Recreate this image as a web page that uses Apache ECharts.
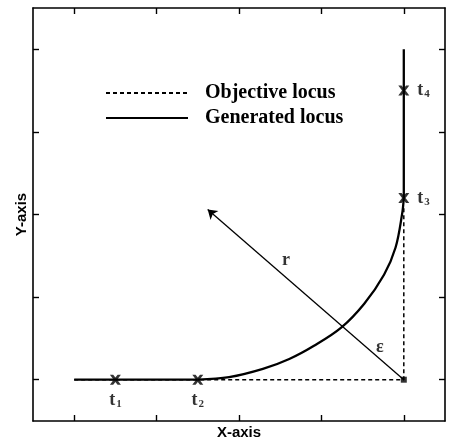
<!DOCTYPE html>
<html><head><meta charset="utf-8">
<script src="https://cdn.jsdelivr.net/npm/echarts@6/dist/echarts.min.js"></script>
<style>html,body{margin:0;background:#fff}#c{width:457px;height:442px}</style>
</head><body><div id="c"></div>
<script>
const tickValues = [0, 1, 2, 3, 4];
const legendNames = ['Objective locus', 'Generated locus'];
const genStraightX = [0, 1.5];
const genStraightY = [0, 0];
const genCurveX = [1.5, 1.88, 2.29, 2.61, 2.91, 3.24, 3.52, 3.76, 3.90, 3.98, 4.0];
const genCurveY = [0, 0.03, 0.13, 0.25, 0.41, 0.63, 0.92, 1.27, 1.60, 2.01, 2.2];
const genVertX = [4, 4];
const genVertY = [2.2, 4.0];
const objX = [0, 4, 4];
const objY = [0, 0, 2.1];
const markerSubs = ['1', '2', '3', '4'];
const markerX = [0.5, 1.5, 4, 4];
const markerY = [0, 0, 2.2, 3.5];
const centerX = [4];
const centerY = [0];
const arrowFrom = [4, 0];
const arrowTo = [1.62, 2.06];
const annotText = ['r', 'ε'];
const annotX = [2.57, 3.71];
const annotY = [1.45, 0.39];

const zip = (xs, ys) => xs.map((x, i) => [x, ys[i]]);
const serif = 'Liberation Serif';
const sans = 'Liberation Sans';
const xMark = 'path://M0,0 L3,0 L5,2.8 L7,0 L10,0 L6.6,5 L10,10 L7,10 L5,7.2 L3,10 L0,10 L3.4,5 Z';

const axisCommon = {
  type: 'value', min: -0.5, max: 4.5,
  axisLine: { show: true, onZero: false, lineStyle: { color: '#000', width: 1.6 } },
  axisTick: { show: true, inside: true, length: 6, customValues: tickValues, lineStyle: { color: '#000', width: 1.4 } },
  axisLabel: { show: false },
  splitLine: { show: false }
};

const chart = echarts.init(document.getElementById('c'));
chart.setOption({
  animation: false,
  backgroundColor: '#fff',
  grid: { left: 33, right: 12, top: 8, bottom: 21, containLabel: false, outerBoundsMode: 'none' },
  legend: {
    data: legendNames,
    orient: 'vertical', left: 100, top: 78,
    itemWidth: 82, itemHeight: 14, itemGap: 5,
    itemStyle: { opacity: 0 },
    textStyle: { fontFamily: serif, fontWeight: 'bold', fontSize: 20, color: '#000', padding: [0, 0, 0, 12] }
  },
  xAxis: [
    Object.assign({}, axisCommon, { position: 'bottom', name: 'X-axis', nameLocation: 'middle', nameGap: 4,
      nameTextStyle: { fontFamily: sans, fontWeight: 'bold', fontSize: 15, color: '#000' } }),
    Object.assign({}, axisCommon, { position: 'top' })
  ],
  yAxis: [
    Object.assign({}, axisCommon, { position: 'left', name: 'Y-axis', nameLocation: 'middle', nameGap: 4,
      nameTextStyle: { fontFamily: sans, fontWeight: 'bold', fontSize: 15, color: '#000' } }),
    Object.assign({}, axisCommon, { position: 'right' })
  ],
  series: [
    { name: 'Objective locus', type: 'line', data: zip(objX, objY), symbol: 'none',
      lineStyle: { color: '#000', width: 1.5, type: [4, 3] }, itemStyle: { color: '#000' }, z: 2 },
    { name: 'Generated locus', type: 'line', data: zip(genStraightX, genStraightY), symbol: 'none',
      lineStyle: { color: '#000', width: 2.3 }, itemStyle: { color: '#000' }, z: 3 },
    { name: 'Generated locus', type: 'line', data: zip(genCurveX, genCurveY), symbol: 'none',
      smooth: 0.35,
      lineStyle: { color: '#000', width: 2.3 }, itemStyle: { color: '#000' }, z: 3 },
    { name: 'Generated locus', type: 'line', data: zip(genVertX, genVertY), symbol: 'none',
      lineStyle: { color: '#000', width: 2.3 }, itemStyle: { color: '#000' }, z: 3 },
    { name: 'arrow', type: 'lines', coordinateSystem: 'cartesian2d',
      symbol: ['none', 'arrow'], symbolSize: [0, 9],
      lineStyle: { color: '#000', width: 1.3, opacity: 1 },
      data: [{ coords: [arrowFrom, arrowTo] }], z: 3 },
    { name: 'center', type: 'scatter', symbol: 'rect', symbolSize: 6,
      itemStyle: { color: '#000' }, data: zip(centerX, centerY), z: 5 },
    { name: 'markers', type: 'scatter', symbol: xMark, symbolSize: [11, 10],
      itemStyle: { color: '#000' }, z: 6,
      data: markerX.map((x, i) => ({
        value: [x, markerY[i]],
        label: {
          show: true,
          position: i < 2 ? 'bottom' : 'right',
          distance: i < 2 ? 6 : 8,
          formatter: 't{s|' + markerSubs[i] + '}',
          fontFamily: serif, fontWeight: 'bold', fontSize: 18, color: '#000',
          rich: { s: { fontFamily: serif, fontWeight: 'bold', fontSize: 11, color: '#000', verticalAlign: 'bottom', padding: [8, 0, 0, 1] } }
        }
      }))
    },
    { name: 'annot', type: 'scatter', symbolSize: 0, z: 6,
      data: annotX.map((x, i) => ({
        value: [x, annotY[i]],
        label: { show: true, position: 'inside', formatter: annotText[i],
          fontFamily: serif, fontWeight: 'bold', fontSize: 18, color: '#000' }
      }))
    }
  ]
});
</script></body></html>
